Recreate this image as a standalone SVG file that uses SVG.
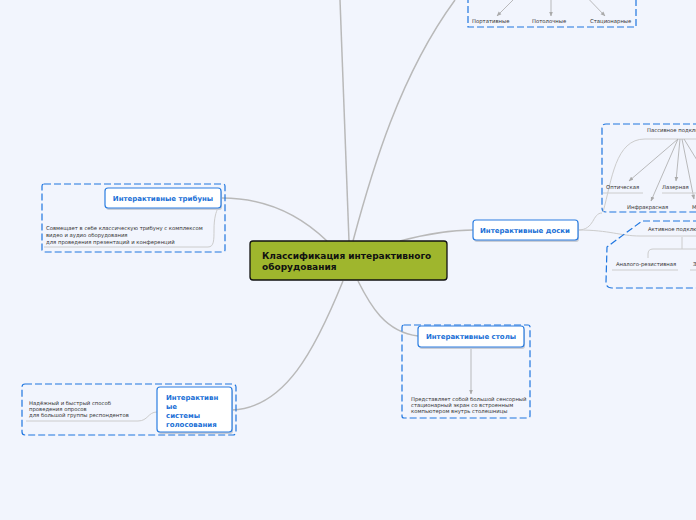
<svg xmlns="http://www.w3.org/2000/svg" width="696" height="520" viewBox="0 0 696 520">
<defs>
<marker id="ah" viewBox="0 0 10 10" refX="9" refY="5" markerWidth="6" markerHeight="6" orient="auto"><path d="M0,1 L10,5 L0,9 z" fill="#aaaaaa"/></marker>
<style>
.bg{fill:#f2f5fd}
.conn{fill:none;stroke:#b9b9b9;stroke-width:1.5}
.sub{fill:none;stroke:#cccccc;stroke-width:1}
.arr{fill:none;stroke:#aaaaaa;stroke-width:0.8;marker-end:url(#ah)}
.dash{fill:none;stroke:#1f76e0;stroke-width:1.2;stroke-dasharray:7 3}
.node{fill:#ffffff;stroke:#2a7de1;stroke-width:1.2}
.shadow{fill:#c9cdd6}
.nt{font-family:"DejaVu Sans",sans-serif;font-weight:bold;font-size:7px;fill:#1a6fd6}
.dt{font-family:"DejaVu Sans",sans-serif;font-size:5.3px;fill:#333333}
.ct{font-family:"DejaVu Sans",sans-serif;font-weight:bold;font-size:9px;fill:#111111}
</style>
</defs>
<rect class="bg" x="0" y="0" width="696" height="520"/>

<g id="connectors">
<path class="conn" d="M349,241 C346,150 342,60 340,0"/>
<path class="conn" d="M353,241 C372,170 400,75 455,0"/>
<path class="conn" d="M222,198 C265,198 300,215 327,241"/>
<path class="conn" d="M400,241 C430,233 450,230 473,230"/>
<path class="conn" d="M358,281 C370,305 385,332 418,336"/>
<path class="conn" d="M343,281 C315,350 285,408 232,410"/>
<path class="sub" d="M578,230 C595,230 592,213 602,213"/>
<path class="sub" d="M578,230 C610,230 620,236 640,236 L696,236"/>
</g>

<g id="node-center">
<rect x="250" y="241" width="197" height="39" rx="3" fill="#9fb62d" stroke="#111111" stroke-width="1.3"/>
<text class="ct" x="262" y="259">Классификация интерактивного</text>
<text class="ct" x="262" y="270">оборудования</text>
</g>

<g id="node-top">
<path class="dash" d="M468,-4 L468,27 L636,27 L636,-4"/>
<path class="arr" d="M523,-10 L497,16"/>
<path class="arr" d="M551,-10 L551,16"/>
<path class="arr" d="M580,-10 L605,16"/>
<text class="dt" x="472" y="23">Портативные</text>
<text class="dt" x="532" y="23">Потолочные</text>
<text class="dt" x="590" y="23">Стационарные</text>
</g>

<g id="node-tribunes">
<rect class="dash" x="42" y="184" width="183" height="68" rx="2"/>
<path class="sub" d="M44,247 L208,247 C214,247 214,240 214,230 C214,218 216,212 218,208"/>
<rect class="shadow" x="106" y="190" width="116" height="20" rx="3"/>
<rect class="node" x="105" y="188" width="116" height="20" rx="3"/>
<text class="nt" x="163" y="201" text-anchor="middle">Интерактивные трибуны</text>
<text class="dt" x="46" y="230">Совмещает в себе классическую трибуну с комплексом</text>
<text class="dt" x="46" y="237">видео и аудио оборудования</text>
<text class="dt" x="46" y="244">для проведения презентаций и конференций</text>
</g>

<g id="node-voting">
<rect class="dash" x="22" y="384" width="214" height="51" rx="3"/>
<path class="sub" d="M26,421 L138,421 C148,421 148,412 157,412"/>
<rect class="shadow" x="158" y="389" width="75" height="45" rx="3"/>
<rect class="node" x="157" y="387" width="75" height="45" rx="3"/>
<text class="nt" x="166" y="400">Интерактивн</text>
<text class="nt" x="166" y="409">ые</text>
<text class="nt" x="166" y="418">системы</text>
<text class="nt" x="166" y="427">голосования</text>
<text class="dt" x="29" y="405">Надёжный и быстрый способ</text>
<text class="dt" x="29" y="411">проведения опросов</text>
<text class="dt" x="29" y="417">для большой группы респондентов</text>
</g>

<g id="node-tables">
<rect class="dash" x="402" y="325" width="128" height="93" rx="2"/>
<path class="arr" d="M471,347 L471,394"/>
<rect class="shadow" x="419" y="328" width="106" height="21" rx="3"/>
<rect class="node" x="418" y="326" width="106" height="21" rx="3"/>
<text class="nt" x="471" y="339" text-anchor="middle">Интерактивные столы</text>
<text class="dt" x="411" y="401">Представляет собой большой сенсорный</text>
<text class="dt" x="411" y="407">стационарный экран со встроенным</text>
<text class="dt" x="411" y="413">компьютером внутрь столешницы</text>
</g>

<g id="node-boards">
<rect class="shadow" x="474" y="222" width="105" height="20" rx="3"/>
<rect class="node" x="473" y="220" width="105" height="20" rx="3"/>
<text class="nt" x="525" y="233" text-anchor="middle">Интерактивные доски</text>
</g>

<g id="node-passive">
<path class="dash" d="M700,124 L606,124 Q602,124 602,128 L602,208 Q602,212 606,212 L700,212"/>
<path class="sub" d="M603,212 C612,180 615,139 645,139 L700,139"/>
<text class="dt" x="647" y="132">Пассивное подключение</text>
<path class="arr" d="M678,139 L629,181"/>
<path class="arr" d="M678,139 L651,201"/>
<path class="arr" d="M680,139 L676,181"/>
<path class="arr" d="M682,139 L694,199"/>
<path class="arr" d="M684,139 L700,165"/>
<path class="sub" d="M603,193 L643,193"/>
<path class="sub" d="M662,193 L696,193"/>
<text class="dt" x="606" y="189">Оптическая</text>
<text class="dt" x="662" y="189">Лазерная</text>
<text class="dt" x="627" y="209">Инфракрасная</text>
<text class="dt" x="692" y="209">М</text>
</g>

<g id="node-active">
<path class="dash" d="M700,221 L642,221 L607,247 L606,282 Q606,288 612,288 L700,288"/>
<text class="dt" x="648" y="231">Активное подключение</text>
<path class="sub" d="M682,237 L682,249 M700,249 L653,249 Q648,249 648,254 L648,258"/>
<path class="sub" d="M612,270 L678,270"/>
<path class="sub" d="M690,270 L700,270"/>
<text class="dt" x="616" y="266">Аналого-резистивная</text>
<text class="dt" x="693" y="266">Э</text>
</g>
</svg>
